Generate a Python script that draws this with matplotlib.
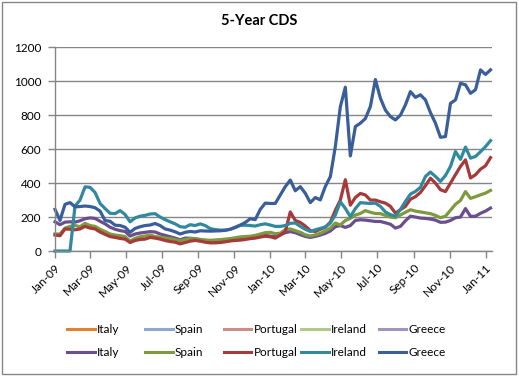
import pandas as pd
import matplotlib
matplotlib.use("Agg")
import matplotlib.pyplot as plt
import matplotlib.dates as mdates
from matplotlib.lines import Line2D
from matplotlib.patches import Rectangle

plt.rcParams['font.family'] = ['Lato', 'DejaVu Sans']

# Datos (aprox. cada 8-9 dias)
fechas = pd.date_range("2009-01-01", "2011-01-09", periods=88)

italy = [172, 155, 170, 172, 170, 178, 190, 195,
         192, 175, 160, 140, 128, 120, 115, 88,
         100, 106, 110, 114, 112, 100, 92, 84,
         76, 66, 76, 75, 72, 68, 62, 58,
         58, 60, 64, 67, 70, 74, 78, 80,
         84, 90, 92, 88, 84, 95, 108, 114,
         108, 96, 86, 80, 86, 94, 104, 118,
         143, 150, 139, 150, 180, 184, 182, 178,
         174, 174, 166, 158, 135, 145, 178, 205,
         200, 194, 192, 188, 182, 169, 170, 180,
         196, 200, 250, 204, 205, 222, 235, 253]

spain = [100, 100, 135, 145, 150, 143, 163, 150,
         145, 128, 115, 100, 94, 90, 85, 58,
         75, 84, 88, 94, 85, 82, 77, 73,
         68, 60, 68, 73, 70, 67, 65, 63,
         65, 67, 70, 73, 78, 83, 85, 87,
         92, 100, 108, 110, 102, 105, 125, 130,
         120, 110, 95, 88, 95, 104, 118, 135,
         165, 153, 180, 192, 212, 221, 238, 228,
         221, 220, 210, 200, 196, 212, 228, 243,
         235, 230, 225, 220, 210, 196, 205, 240,
         275, 298, 350, 310, 320, 331, 341, 357]

portugal = [94, 90, 130, 128, 125, 130, 145, 135,
            130, 112, 98, 85, 80, 74, 70, 50,
            62, 68, 70, 80, 76, 70, 62, 56,
            52, 42, 50, 58, 62, 58, 52, 48,
            48, 50, 54, 59, 62, 64, 68, 73,
            76, 82, 87, 84, 76, 94, 114, 230,
            180, 168, 147, 120, 115, 128, 140, 170,
            240, 300, 420, 270, 315, 339, 330, 300,
            300, 290, 282, 263, 223, 243, 263, 305,
            320, 345, 385, 429, 400, 361, 350, 400,
            450, 498, 537, 430, 449, 482, 502, 550]

ireland = [0, 0, 0, 0, 265, 300, 378, 375,
           345, 280, 250, 222, 220, 238, 215, 172,
           195, 205, 210, 218, 220, 200, 185, 172,
           160, 143, 140, 155, 150, 160, 150, 132,
           126, 123, 123, 128, 138, 152, 152, 150,
           147, 155, 160, 153, 145, 145, 150, 163,
           165, 145, 128, 115, 125, 133, 142, 165,
           212, 290, 251, 202, 250, 285, 282, 280,
           282, 263, 230, 214, 204, 245, 292, 335,
           351, 375, 439, 465, 439, 410, 445, 498,
           586, 540, 612, 547, 557, 585, 615, 650]

greece = [245, 180, 275, 285, 260, 262, 265, 262,
          255, 235, 180, 175, 152, 150, 140, 110,
          133, 143, 150, 153, 162, 150, 130, 123,
          113, 100, 110, 115, 112, 119, 118, 117,
          118, 119, 122, 128, 140, 152, 168, 190,
          185, 245, 282, 280, 280, 330, 379, 418,
          355, 379, 340, 285, 315, 301, 380, 438,
          615, 850, 965, 560, 733, 753, 780, 851,
          1010, 900, 830, 792, 772, 800, 861, 939,
          905, 920, 890, 815, 753, 670, 674, 870,
          890, 988, 979, 929, 950, 1067, 1040, 1067]

paises = ["Italy", "Spain", "Portugal", "Ireland", "Greece"]
series = [italy, spain, portugal, ireland, greece]
colores = ["#6A4E8E", "#7E9A3E", "#A6393A", "#31899E", "#3A5E9A"]
colores_claros = ["#E3822E", "#8EA8CF", "#D08A87", "#AFC98A", "#A393BE"]
gris = "#868686"

fig = plt.figure(figsize=(5.19, 3.76), dpi=100)
ax = fig.add_axes([55 / 519, 1 - 251 / 376, (491.7 - 55) / 519, (251 - 47.3) / 376])

for serie, color in zip(series, colores):
    ax.plot(fechas, serie, color=color, lw=2.3, clip_on=False, solid_joinstyle="round")

ax.set_ylim(0, 1200)
ax.set_yticks(range(0, 1201, 200))
ax.set_xlim(pd.Timestamp("2009-01-01"), pd.Timestamp("2011-01-11"))
ax.xaxis.set_major_locator(mdates.MonthLocator(bymonth=[1, 3, 5, 7, 9, 11]))
ax.xaxis.set_major_formatter(mdates.DateFormatter("%b-%y"))

ax.grid(axis="y", color=gris, lw=1)
ax.set_axisbelow(True)
for lado in ["top", "right"]:
    ax.spines[lado].set_visible(False)
for lado in ["left", "bottom"]:
    ax.spines[lado].set_color(gris)
    ax.spines[lado].set_linewidth(1)
ax.tick_params(axis="both", length=5, width=1, color=gris, labelsize=8.5, labelcolor="black")
ax.tick_params(axis="y", pad=5)
ax.tick_params(axis="x", pad=3)
for lbl in ax.get_xticklabels():
    lbl.set_rotation(45)
    lbl.set_ha("right")
    lbl.set_rotation_mode("anchor")

fig.text(259 / 519, 1 - 21 / 376, "5-Year CDS", ha="center", va="center",
         fontsize=10.5, fontweight="bold")

# Leyenda: una columna por pais, fila clara arriba y fila oscura abajo
pos_x = [67, 145, 223.5, 301, 378.5]
for nombre, c_claro, c_oscuro, x0 in zip(paises, colores_claros, colores, pos_x):
    h = [Line2D([], [], color=c_claro, lw=2.2), Line2D([], [], color=c_oscuro, lw=2.2)]
    fig.legend(handles=h, labels=[nombre, nombre], loc="upper left",
               bbox_to_anchor=(x0 / 519, 1 - 324 / 376), frameon=False,
               borderpad=0, borderaxespad=0, handlelength=2.35, handletextpad=0.2,
               labelspacing=1.05, fontsize=8.5)

fig.add_artist(Rectangle((2 / 519, 2 / 376), 514 / 519, 372 / 376,
                         transform=fig.transFigure, fill=False, ec=gris, lw=1))

fig.savefig("out.png", dpi=100)
